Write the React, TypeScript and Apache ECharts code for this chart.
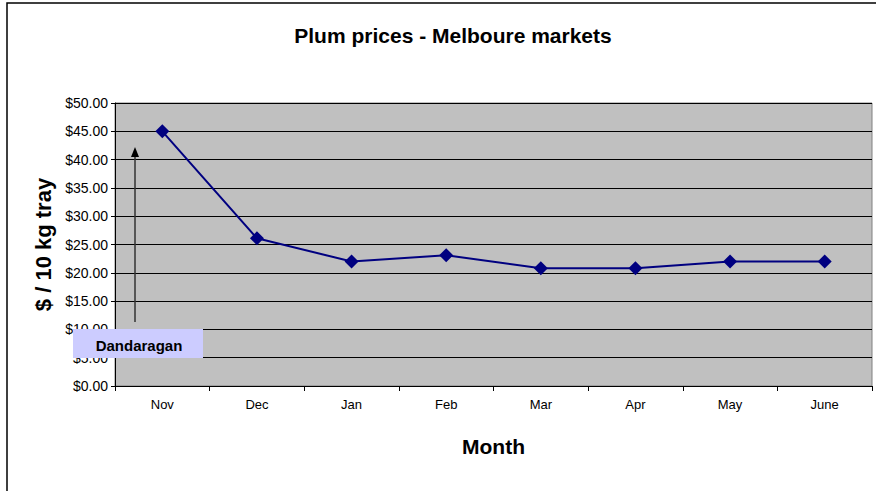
import React, { useEffect, useRef } from "react";
import * as echarts from "echarts";

const months = ["Nov", "Dec", "Jan", "Feb", "Mar", "Apr", "May", "June"];
const prices = [45.0, 26.1, 22.0, 23.1, 20.8, 20.8, 22.0, 22.0];
const chartTitle = "Plum prices - Melboure markets";
const yAxisName = "$ / 10 kg tray";
const xAxisName = "Month";
const noteLabel = "Dandaragan";

export default function App() {
  const ref = useRef<HTMLDivElement>(null);
  useEffect(() => {
    document.body.style.margin = "0";
    const chart = echarts.init(ref.current!, null, { renderer: "svg" });
    const font = "Liberation Sans, Arial, sans-serif";
    chart.setOption({
      animation: false,
      backgroundColor: "#ffffff",
      title: {
        text: chartTitle,
        left: 448,
        top: 20,
        textAlign: "center",
        textStyle: { fontFamily: font, fontSize: 21, fontWeight: "bold", color: "#000" },
      },
      grid: {
        left: 115,
        right: 4,
        top: 103,
        bottom: 105,
        show: true,
        backgroundColor: "#c0c0c0",
        borderColor: "#808080",
        borderWidth: 1,
      },
      xAxis: {
        type: "category",
        data: months,
        boundaryGap: true,
        name: xAxisName,
        nameLocation: "middle",
        nameGap: 50,
        nameTextStyle: { fontFamily: font, fontSize: 21, fontWeight: "bold", color: "#000" },
        axisLine: { lineStyle: { color: "#000", width: 1 } },
        axisTick: { show: true, length: 5, lineStyle: { color: "#000" } },
        axisLabel: { fontFamily: font, fontSize: 13, color: "#000", margin: 12 },
        splitLine: { show: false },
      },
      yAxis: {
        type: "value",
        min: 0,
        max: 50,
        interval: 5,
        name: yAxisName,
        nameLocation: "middle",
        nameGap: 59,
        nameRotate: 90,
        nameTextStyle: { fontFamily: font, fontSize: 22, fontWeight: "bold", color: "#000" },
        axisLine: { show: true, lineStyle: { color: "#000", width: 1 } },
        axisTick: { show: true, length: 4, lineStyle: { color: "#000" } },
        axisLabel: {
          fontFamily: font,
          fontSize: 14,
          color: "#000",
          margin: 7,
          formatter: (v: number) => "$" + v.toFixed(2),
        },
        splitLine: { show: true, lineStyle: { color: "#000", width: 1 } },
      },
      series: [
        {
          type: "line",
          data: prices,
          symbol: "diamond",
          symbolSize: 14,
          lineStyle: { color: "#000080", width: 2 },
          itemStyle: { color: "#000080" },
        },
      ],
      graphic: [
        {
          type: "polyline",
          shape: { points: [[7, 491], [7, 3], [876, 3]] },
          style: { stroke: "#000", lineWidth: 1.5, fill: null },
          z: 100,
        },
        {
          type: "line",
          shape: { x1: 135, y1: 322, x2: 135, y2: 155 },
          style: { stroke: "#333", lineWidth: 1.5 },
          z: 100,
        },
        {
          type: "polygon",
          shape: { points: [[131, 157], [139, 157], [135, 147]] },
          style: { fill: "#000" },
          z: 100,
        },
        {
          type: "rect",
          shape: { x: 73, y: 329, width: 130, height: 29 },
          style: { fill: "#ccccff" },
          z: 100,
        },
        {
          type: "text",
          x: 139,
          y: 345,
          style: {
            text: noteLabel,
            fontFamily: font,
            fontSize: 15,
            fontWeight: "bold",
            fill: "#000",
            align: "center",
            verticalAlign: "middle",
          },
          z: 101,
        },
      ],
    });
    return () => chart.dispose();
  }, []);
  return <div ref={ref} style={{ width: 876, height: 491 }} />;
}
